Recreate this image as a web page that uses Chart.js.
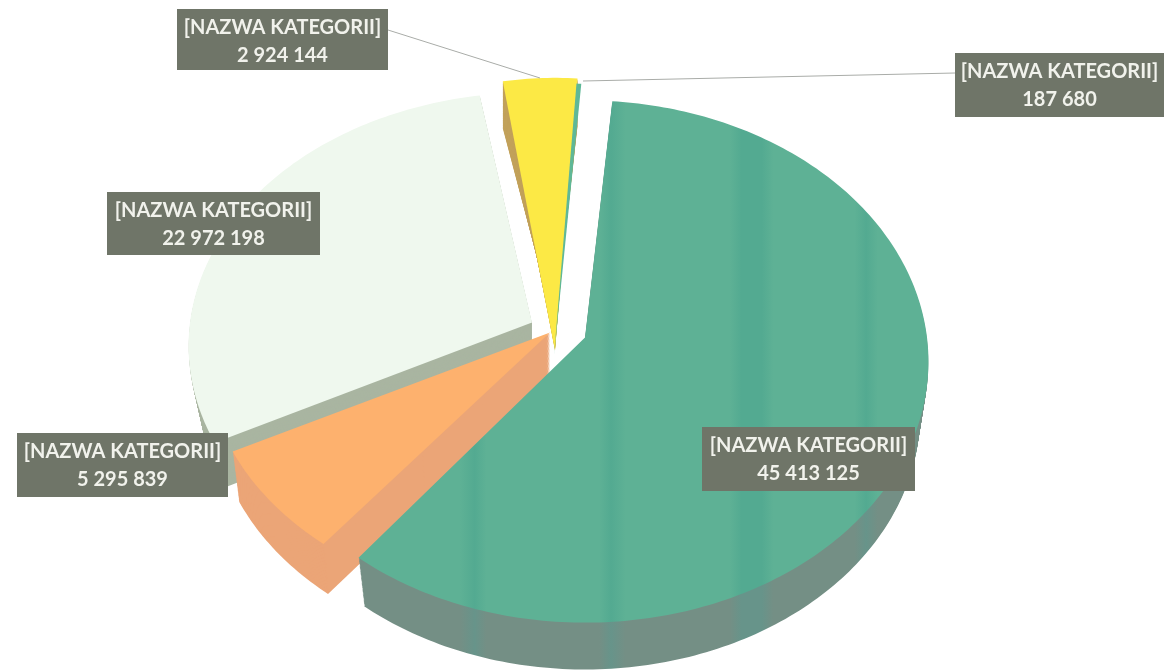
<!DOCTYPE html>
<html>
<head>
<meta charset="utf-8">
<style>
  html, body { margin: 0; padding: 0; background: #fff; overflow: hidden; }
  canvas { display: block; }
</style>
<script src="https://cdn.jsdelivr.net/npm/chart.js@4"></script>
</head>
<body>
<canvas id="chart" width="1164" height="671"></canvas>
<script>
// data
const categories = ['[NAZWA KATEGORII]', '[NAZWA KATEGORII]', '[NAZWA KATEGORII]', '[NAZWA KATEGORII]', '[NAZWA KATEGORII]'];
const values = [45413125, 5295839, 22972198, 2924144, 187680];

// slice styles, same order as values
const topColors = ['#5eb195', '#fdb16e', '#eff8ee', '#fce945', '#5fb897'];
const wallColors = ['#748f85', '#eba577', '#a9b5a1', '#c2a25b', '#5fb897'];

// exploded slices: where each tip sits relative to the pie centre, and how long it looks
const shiftX = [32, -3, -21, 2, 1];
const shiftY = [2, -3, -13, 15, 20];
const stretch = [1, 0.96, 0.97, 1.15, 1.15];

// side walls: the lower rim of each slice relative to the top face
const wallScaleX = [0.975, 0.98, 0.97, 1, 1];
const wallScaleY = [0.975, 1, 1, 0.733, 1];
const wallDrop = [54, 50, 45, -25, 0];

// back to front
const drawOrder = [2, 3, 4, 1, 0];

// label boxes: left, top, right, bottom
const labelBoxes = [
  [702, 427, 915, 491],
  [17, 433, 228, 497],
  [107, 192, 320, 255],
  [177, 9, 388, 70],
  [955, 53, 1164, 117]
];
const leaderLines = [
  null, null, null,
  [388, 30, 540, 78],
  [583, 81, 955, 73]
];

const flatten = 0.757;
const perspective = 0.092;

function formatValue(v) {
  return String(v).replace(/\B(?=(\d{3})+$)/g, ' ');
}

function tracePath(ctx, arc, i, t) {
  const rx = arc.outerRadius;
  const ry = rx * flatten * stretch[i];
  const kx = 1 - t * (1 - wallScaleX[i]);
  const ky = 1 - t * (1 - wallScaleY[i]);
  const ox = arc.x + shiftX[i];
  const oy = arc.y + shiftY[i] + t * wallDrop[i];
  ctx.beginPath();
  ctx.moveTo(ox, oy);
  const steps = Math.max(2, Math.ceil((arc.endAngle - arc.startAngle) * 60));
  for (let s = 0; s <= steps; s++) {
    const a = arc.startAngle + (arc.endAngle - arc.startAngle) * s / steps;
    const w = 1 - perspective * Math.sin(a);
    ctx.lineTo(ox + kx * rx * Math.cos(a) / w, oy + ky * ry * Math.sin(a) / w);
  }
  ctx.closePath();
}

// the scan shows vertical bands on the big slice
function greenFill(ctx, base, band) {
  const g = ctx.createLinearGradient(350, 0, 930, 0);
  const stops = [[0, base], [0.19, base], [0.215, band], [0.235, base], [0.43, base], [0.45, band], [0.475, base],
    [0.655, base], [0.675, band], [0.71, band], [0.73, base], [0.87, base], [0.89, band], [0.91, base], [1, base]];
  stops.forEach(s => g.addColorStop(s[0], s[1]));
  return g;
}

const tiltedPie = {
  id: 'tiltedPie',
  beforeDatasetDraw(chart) {
    const ctx = chart.ctx;
    const arcs = chart.getDatasetMeta(0).data;
    drawOrder.forEach(i => {
      const arc = arcs[i];
      ctx.fillStyle = i === 0 ? greenFill(ctx, wallColors[0], '#67948a') : wallColors[i];
      if (wallDrop[i] !== 0) {
        for (let n = 40; n > 0; n--) {
          tracePath(ctx, arc, i, n / 40);
          ctx.fill();
        }
      }
      ctx.fillStyle = i === 0 ? greenFill(ctx, topColors[0], '#53aa91') : topColors[i];
      tracePath(ctx, arc, i, 0);
      ctx.fill();
    });
    return false;
  },
  afterDraw(chart) {
    const ctx = chart.ctx;
    ctx.save();
    leaderLines.forEach(l => {
      if (!l) return;
      ctx.strokeStyle = '#a9aca8';
      ctx.lineWidth = 1;
      ctx.beginPath();
      ctx.moveTo(l[0], l[1]);
      ctx.lineTo(l[2], l[3]);
      ctx.stroke();
    });
    ctx.textAlign = 'center';
    ctx.textBaseline = 'middle';
    ctx.font = '700 20px Lato';
    labelBoxes.forEach((b, i) => {
      ctx.fillStyle = '#6f7568';
      ctx.fillRect(b[0], b[1], b[2] - b[0], b[3] - b[1]);
      const mid = (b[0] + b[2]) / 2;
      ctx.fillStyle = '#f1f2ec';
      ctx.fillText(categories[i], mid, b[1] + 19);
      ctx.fillText(formatValue(values[i]), mid, b[1] + 47);
    });
    ctx.restore();
  }
};

new Chart(document.getElementById('chart'), {
  type: 'pie',
  data: {
    labels: categories,
    datasets: [{ data: values, backgroundColor: topColors, borderWidth: 0 }]
  },
  options: {
    responsive: false,
    animation: false,
    radius: 342,
    rotation: 5,
    layout: { padding: { right: 58 } },
    plugins: { legend: { display: false }, tooltip: { enabled: false } }
  },
  plugins: [tiltedPie]
});
</script>
</body>
</html>
